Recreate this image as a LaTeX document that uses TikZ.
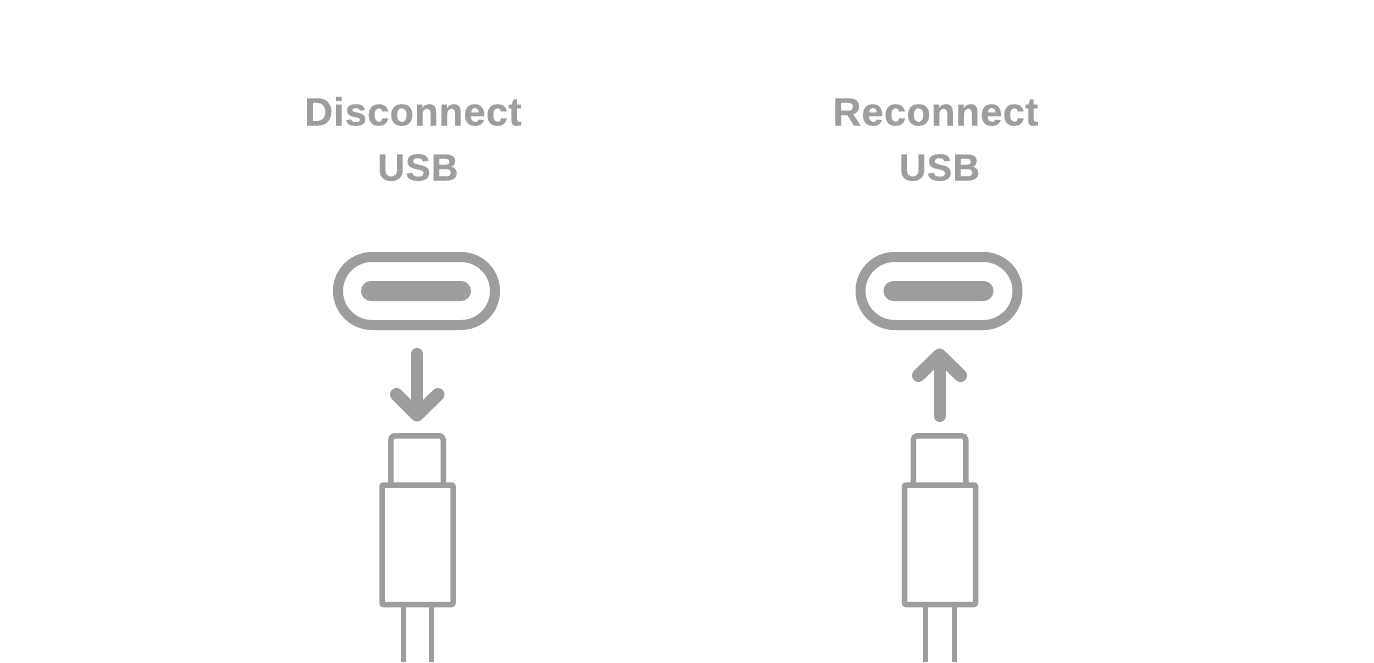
\documentclass[tikz,border=0pt]{standalone}
\usepackage{fontspec}
\setmainfont{Liberation Sans}[LetterSpace=1.2,FakeBold=0.25]
\definecolor{ink}{HTML}{9C9E9D}
\tikzset{
  x=1pt,y=-1pt,
  title/.style={anchor=base,inner sep=0pt,text=ink,font=\fontsize{39.5}{41}\selectfont\bfseries},
  subtitle/.style={title,font=\fontsize{37.8}{41}\selectfont\bfseries},
  portring/.style={draw=ink,line width=10pt,rounded corners=34pt},
  portslot/.style={fill=ink,rounded corners=10pt},
  arrowline/.style={draw=ink,line width=12pt,line cap=round,line join=round},
  arrowhead/.style={arrowline,line width=13pt},
  plugline/.style={draw=ink,line width=5.5pt,line join=round},
  cableline/.style={draw=ink,line width=5pt},
}
\newcommand{\usbset}[2]{%
  \begin{scope}[xshift=#1pt]
    \draw[portring] (338,257) rectangle (495,325);
    \path[portslot] (361,281) rectangle (471,301);
    #2
    \draw[cableline] (403,607) -- (403,662);
    \draw[cableline] (431.5,607) -- (431.5,662);
    \draw[plugline,rounded corners=4pt] (390.75,485) -- (390.75,435.75) -- (443.25,435.75) -- (443.25,485);
    \draw[plugline,rounded corners=1pt] (382,485) rectangle (453,604.5);
  \end{scope}}
\begin{document}
\begin{tikzpicture}
\useasboundingbox (0,0) rectangle (1374,662);
\fill[white] (0,0) rectangle (1374,662);
\node[title] (t1) at (413,125.5) {Disconnect};
\node[subtitle] (t2) at (418,180.5) {USB};
\node[title] (t3) at (935.5,125.5) {Reconnect};
\node[subtitle] (t4) at (939.5,180.5) {USB};
\usbset{0}{%
  \draw[arrowline] (417,354) -- (417,410);
  \draw[arrowhead] (396.5,394.5) -- (417,415) -- (438,394.5);}
\usbset{522.5}{%
  \draw[arrowline] (417,416) -- (417,360);
  \draw[arrowhead] (396,375.5) -- (417,355) -- (438,375.5);}
\end{tikzpicture}
\end{document}
